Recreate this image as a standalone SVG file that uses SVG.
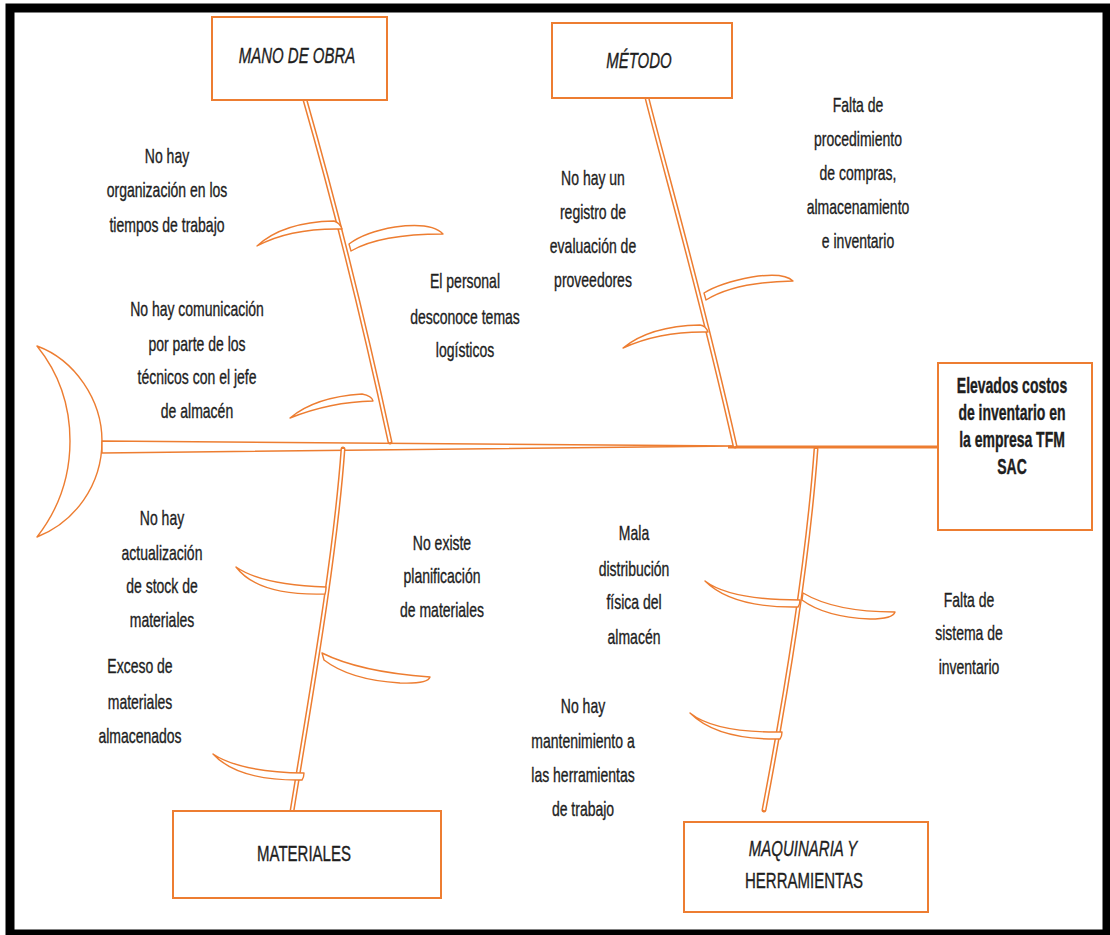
<svg xmlns="http://www.w3.org/2000/svg" width="1110" height="935" viewBox="0 0 1110 935">
<style>
.bone{fill:none;stroke:#ED7D31;stroke-width:5;stroke-linecap:round}
.bonein{fill:none;stroke:#fff;stroke-width:2}
.sub{fill:#fff;stroke:#ED7D31;stroke-width:1.4;stroke-linejoin:round}
.box{fill:#fff;stroke:#ED7D31;stroke-width:2}
.t{font-family:"Liberation Sans",Arial,sans-serif;font-size:14px;fill:#1e1e1e;stroke:#1e1e1e;stroke-width:0.25;text-anchor:middle}
.tb{font-weight:bold}
.ti{font-size:15px;font-style:italic}
.tu{font-size:15px}
</style>
<rect width="1110" height="935" fill="#fff"/>
<rect x="10" y="8" width="1097" height="926" fill="none" stroke="#000" stroke-width="9"/>

<g id="connectors">
  <!-- tail -->
  <path class="sub" stroke-width="1.8" d="M37,346 C75,360 102,400 102,441 C102,485 75,522 37,537 C58,510 70,480 70,441 C70,402 58,372 37,346 Z"/>
  <!-- spine -->
  <path class="sub" stroke-width="1.8" d="M102,441 L735,446 L102,453 Z"/>
  <line x1="728" y1="447" x2="938" y2="447" stroke="#ED7D31" stroke-width="3"/>
  <!-- main bones -->
  <path class="bone" d="M305,100 C325,170 355,280 390,442"/>
  <path class="bonein" d="M305,100 C325,170 355,280 390,442"/>
  <path class="bone" d="M647,98 C665,170 700,290 735,446"/>
  <path class="bonein" d="M647,98 C665,170 700,290 735,446"/>
  <path class="bone" d="M343,449 C335,560 310,700 292,811"/>
  <path class="bonein" d="M343,449 C335,560 310,700 292,811"/>
  <path class="bone" d="M816,449 C808,560 785,700 764,810"/>
  <path class="bonein" d="M816,449 C808,560 785,700 764,810"/>
  <!-- sub bones: mano de obra -->
  <path class="sub" d="M257,246 Q283,222 334,221 Q340,223 342,229 Q290,228 257,246 Z"/>
  <path class="sub" d="M351,251 Q380,234 443,234 Q432,222 395,227 Q365,232 349,244 Z"/>
  <path class="sub" d="M290,418 Q315,397 362,394 Q372,396 373,401 Q330,402 290,418 Z"/>
  <!-- sub bones: metodo -->
  <path class="sub" d="M706,300 Q735,282 793,281 Q784,272 752,277 Q720,283 704,293 Z"/>
  <path class="sub" d="M623,348 Q650,326 700,325 Q706,326 708,332 Q660,331 623,348 Z"/>
  <!-- sub bones: materiales -->
  <path class="sub" d="M236,567 Q262,585 326,587 Q326,591 325,594 Q258,596 236,567 Z"/>
  <path class="sub" d="M322,653 Q360,672 430,677 Q428,684 400,683 Q350,680 324,660 Z"/>
  <path class="sub" d="M213,754 Q240,772 304,773 Q304,777 302,780 Q238,781 213,754 Z"/>
  <!-- sub bones: maquinaria -->
  <path class="sub" d="M705,581 Q730,600 800,600 Q800,604 798,607 Q732,608 705,581 Z"/>
  <path class="sub" d="M803,593 Q835,612 895,612 Q893,619 870,619 Q825,617 802,600 Z"/>
  <path class="sub" d="M690,713 Q715,733 782,732 Q782,736 780,739 Q717,740 690,713 Z"/>
</g>

<g id="mano-de-obra">
  <rect class="box" x="212" y="17" width="175" height="83"/>
  <text class="t ti" transform="translate(297,63) scale(1,1.45)">MANO DE OBRA</text>
</g>
<g id="metodo">
  <rect class="box" x="552" y="23" width="180" height="75"/>
  <text class="t ti" transform="translate(639,68) scale(1,1.45)">MÉTODO</text>
</g>
<g id="materiales">
  <rect class="box" x="173" y="811" width="268" height="87"/>
  <text class="t tu" transform="translate(304,861) scale(1,1.45)">MATERIALES</text>
</g>
<g id="maquinaria">
  <rect class="box" x="684" y="822" width="244" height="90"/>
  <text class="t ti" transform="translate(803,856) scale(1,1.45)">MAQUINARIA Y</text>
  <text class="t tu" transform="translate(804,888) scale(1,1.45)">HERRAMIENTAS</text>
</g>
<g id="efecto">
  <rect class="box" x="938" y="363" width="154" height="167"/>
  <text class="t tb" transform="translate(1012,393) scale(1,1.6)">Elevados costos</text>
  <text class="t tb" transform="translate(1012,420) scale(1,1.6)">de inventario en</text>
  <text class="t tb" transform="translate(1012,447) scale(1,1.6)">la empresa TFM</text>
  <text class="t tb" transform="translate(1012,474) scale(1,1.6)">SAC</text>
</g>

<g id="causa-organizacion">
  <text class="t" transform="translate(167,163) scale(1,1.4)">No hay</text>
  <text class="t" transform="translate(167,197) scale(1,1.4)">organización en los</text>
  <text class="t" transform="translate(167,232) scale(1,1.4)">tiempos de trabajo</text>
</g>
<g id="causa-comunicacion">
  <text class="t" transform="translate(197,316) scale(1,1.4)">No hay comunicación</text>
  <text class="t" transform="translate(197,351) scale(1,1.4)">por parte de los</text>
  <text class="t" transform="translate(197,384) scale(1,1.4)">técnicos con el jefe</text>
  <text class="t" transform="translate(197,418) scale(1,1.4)">de almacén</text>
</g>
<g id="causa-personal">
  <text class="t" transform="translate(465,288) scale(1,1.4)">El personal</text>
  <text class="t" transform="translate(465,324) scale(1,1.4)">desconoce temas</text>
  <text class="t" transform="translate(465,357) scale(1,1.4)">logísticos</text>
</g>
<g id="causa-registro">
  <text class="t" transform="translate(593,185) scale(1,1.4)">No hay un</text>
  <text class="t" transform="translate(593,219) scale(1,1.4)">registro de</text>
  <text class="t" transform="translate(593,253) scale(1,1.4)">evaluación de</text>
  <text class="t" transform="translate(593,287) scale(1,1.4)">proveedores</text>
</g>
<g id="causa-procedimiento">
  <text class="t" transform="translate(858,112) scale(1,1.4)">Falta de</text>
  <text class="t" transform="translate(858,146) scale(1,1.4)">procedimiento</text>
  <text class="t" transform="translate(858,180) scale(1,1.4)">de compras,</text>
  <text class="t" transform="translate(858,214) scale(1,1.4)">almacenamiento</text>
  <text class="t" transform="translate(858,248) scale(1,1.4)">e inventario</text>
</g>
<g id="causa-actualizacion">
  <text class="t" transform="translate(162,525) scale(1,1.4)">No hay</text>
  <text class="t" transform="translate(162,560) scale(1,1.4)">actualización</text>
  <text class="t" transform="translate(162,593) scale(1,1.4)">de stock de</text>
  <text class="t" transform="translate(162,627) scale(1,1.4)">materiales</text>
</g>
<g id="causa-exceso">
  <text class="t" transform="translate(140,673) scale(1,1.4)">Exceso de</text>
  <text class="t" transform="translate(140,709) scale(1,1.4)">materiales</text>
  <text class="t" transform="translate(140,743) scale(1,1.4)">almacenados</text>
</g>
<g id="causa-planificacion">
  <text class="t" transform="translate(442,550) scale(1,1.4)">No existe</text>
  <text class="t" transform="translate(442,583) scale(1,1.4)">planificación</text>
  <text class="t" transform="translate(442,617) scale(1,1.4)">de materiales</text>
</g>
<g id="causa-distribucion">
  <text class="t" transform="translate(634,540) scale(1,1.4)">Mala</text>
  <text class="t" transform="translate(634,576) scale(1,1.4)">distribución</text>
  <text class="t" transform="translate(634,609) scale(1,1.4)">física del</text>
  <text class="t" transform="translate(634,644) scale(1,1.4)">almacén</text>
</g>
<g id="causa-sistema">
  <text class="t" transform="translate(969,607) scale(1,1.4)">Falta de</text>
  <text class="t" transform="translate(969,640) scale(1,1.4)">sistema de</text>
  <text class="t" transform="translate(969,674) scale(1,1.4)">inventario</text>
</g>
<g id="causa-mantenimiento">
  <text class="t" transform="translate(583,713) scale(1,1.4)">No hay</text>
  <text class="t" transform="translate(583,748) scale(1,1.4)">mantenimiento a</text>
  <text class="t" transform="translate(583,782) scale(1,1.4)">las herramientas</text>
  <text class="t" transform="translate(583,816) scale(1,1.4)">de trabajo</text>
</g>
</svg>
